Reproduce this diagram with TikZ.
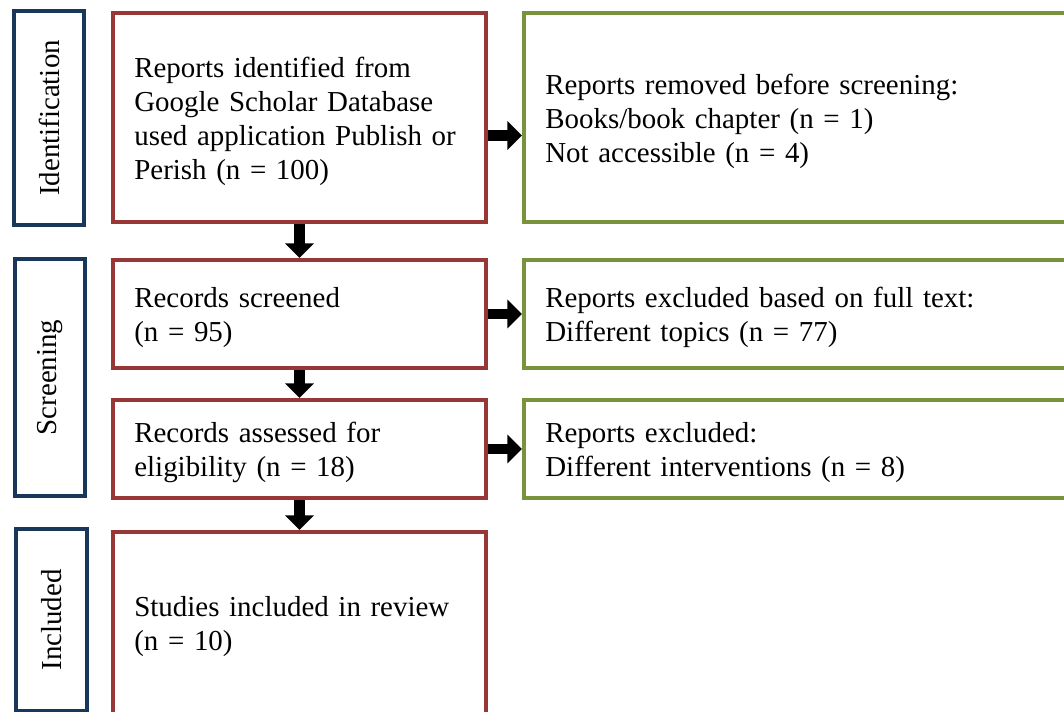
\documentclass[tikz,border=0pt]{standalone}
\usepackage{fontspec}
\setmainfont{Liberation Serif}
\usetikzlibrary{arrows.meta,calc}

\definecolor{boxred}{RGB}{152,56,54}
\definecolor{boxgreen}{RGB}{119,147,60}
\definecolor{boxblue}{RGB}{25,55,90}

\begin{document}
\begin{tikzpicture}[x=0.75pt,y=0.75pt,yscale=-1,
	every node/.style={font=\fontsize{21.7}{25.5}\selectfont},
	phase/.style={draw=boxblue, line width=3pt, minimum height=53pt, inner sep=0pt, rotate=90},
	stagebox/.style={draw=boxred, line width=3pt, text width=247.75pt, inner xsep=16pt, inner ysep=0pt, align=left, execute at begin node={\rule{0pt}{21pt}}},
	exclbox/.style={draw=boxgreen, line width=3pt, text width=376pt, inner xsep=16pt, inner ysep=0pt, align=left, execute at begin node={\rule{0pt}{21pt}}},
	flow/.style={line width=8pt, -{Triangle[width=21pt,length=11pt]}}]
	\clip (0,0) rectangle (1064,711);

	% Phase labels
	\node [phase, minimum width=160.5pt] (ident) at (49,118) {Identification};
	\node [phase, minimum width=177.75pt] (screen) at (50,377.5) {Screening};
	\node [phase, minimum width=136.5pt] (incl) at (51.5,620) {Included};

	% Stage boxes
	\node [stagebox, minimum height=156.75pt] (found) at (299.5,117.5) {Reports identified from\\Google Scholar Database\\used application Publish or\\Perish (n = 100)};
	\node [stagebox, minimum height=81pt] (screened) at (299.5,314) {Records screened\\(n = 95)};
	\node [stagebox, minimum height=73.5pt] (assessed) at (299.5,449) {Records assessed for\\eligibility (n = 18)};
	\node [stagebox, minimum height=136.5pt] (review) at (299.5,623) {Studies included in review\\(n = 10)};

	% Exclusion boxes
	\node [exclbox, minimum height=156.75pt] (removed) at (796,117.5) {Reports removed before screening:\\Books/book chapter (n = 1)\\Not accessible (n = 4)};
	\node [exclbox, minimum height=81pt] (fulltext) at (796,314) {Reports excluded based on full text:\\Different topics (n = 77)};
	\node [exclbox, minimum height=73.5pt] (interv) at (796,449) {Reports excluded:\\Different interventions (n = 8)};

	% Connections
	\draw [flow] (found.south) -- (screened.north);
	\draw [flow] (screened.south) -- (assessed.north);
	\draw [flow] (assessed.south) -- (review.north);
	\draw [flow] ($(found.east)+(0,18)$) -- ($(removed.west)+(0,18)$);
	\draw [flow] (screened.east) -- (fulltext.west);
	\draw [flow] (assessed.east) -- (interv.west);

\end{tikzpicture}
\end{document}
